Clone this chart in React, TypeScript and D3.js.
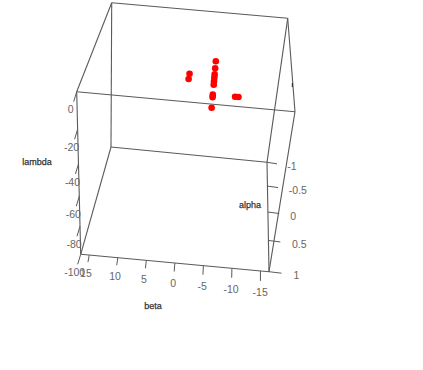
import { scaleLinear } from "d3";

const betaTicks = [15, 10, 5, 0, -5, -10, -15];
const alphaTicks = [-1, -0.5, 0, 0.5, 1];
const lambdaTicks = [0, -20, -40, -60, -80, -100];

const pointBeta = [-3.9, -3.9, -3.9, -3.9, -3.9, -3.9, -3.9, -3.9, -3.9, 0.4, 0.5, -7.8, -8.4];
const pointAlpha = [0, 0, 0, 0, 0, 0, 0, 0, 0, 0, 0, 0, 0];
const pointLambda = [-4.5, -8.5, -12, -14, -16, -18, -24, -25.5, -32, -13, -16, -24, -24];

const width = 423;
const height = 370;

// screen corners of the box, [left/right][front/back][top/bottom]
const corners = {
  lft: [76.7, 91.7],
  rft: [295, 111.7],
  lbt: [111.7, 2.7],
  rbt: [287.7, 18.3],
  lfd: [80.7, 254.3],
  rfd: [269, 271.7],
  lbd: [111, 147],
  rbd: [267, 162.3],
};

const edges = [
  ["lft", "rft"], ["lbt", "rbt"], ["lfd", "rfd"], ["lbd", "rbd"],
  ["lft", "lbt"], ["rft", "rbt"], ["lfd", "lbd"], ["rfd", "rbd"],
  ["lft", "lfd"], ["rft", "rfd"], ["lbt", "lbd"], ["rbt", "rbd"],
];

const betaScale = scaleLinear().domain([16.5, -16.5]).range([0, 1]);
const alphaScale = scaleLinear().domain([1, -1]).range([0, 1]);
const lambdaScale = scaleLinear().domain([0, -100]).range([0, 1]);

// perspective: corner weights grow with depth, then homogeneous trilinear blend
function project(beta: number, alpha: number, lambda: number) {
  const u = betaScale(beta);
  const b = alphaScale(alpha);
  const d = lambdaScale(lambda);
  let x = 0;
  let y = 0;
  let w = 0;
  for (const [i, fu] of [1 - u, u].entries()) {
    for (const [j, fb] of [1 - b, b].entries()) {
      for (const [k, fd] of [1 - d, d].entries()) {
        const key = (i ? "r" : "l") + (j ? "b" : "f") + (k ? "d" : "t");
        const c = corners[key as keyof typeof corners];
        const cw = 1 + 0.2 * k + 0.24 * j;
        const f = fu * fb * fd * cw;
        x += f * c[0];
        y += f * c[1];
        w += f;
      }
    }
  }
  return [x / w, y / w];
}

const betaTickDy = scaleLinear().domain([15, -15]).range([7, 10]);
const betaTickDx = scaleLinear().domain([15, -15]).range([-1.3, 0]);
const betaLabelDx = scaleLinear().domain([15, -15]).range([-3.3, -0.3]);
const betaLabelDy = scaleLinear().domain([15, -15]).range([18.3, 21.5]);
const alphaTickLen = scaleLinear().domain([-1, 1]).range([10, 12.5]);
const alphaLabelDx = scaleLinear().domain([-1, 1]).range([20.3, 24.5]);

const tickColor = "#5a5a5a";
const labelColor = "#666";
const titleColor = "#333";
const font = "'Liberation Sans', Arial, sans-serif";

export default function App() {
  return (
    <svg
      width={width}
      height={height}
      style={{ position: "absolute", left: 0, top: 0, background: "#fff" }}
      fontFamily={font}>
      {edges.map(([a, b]) => {
        const p = corners[a as keyof typeof corners];
        const q = corners[b as keyof typeof corners];
        return <line key={a + b} x1={p[0]} y1={p[1]} x2={q[0]} y2={q[1]} stroke={tickColor} strokeWidth={1.1} />;
      })}
      <line x1={292.3} y1={83} x2={292.3} y2={87} stroke="#222" strokeWidth={1} />

      {lambdaTicks.map((t) => {
        const [x, y] = project(16.5, 1, t);
        return (
          <g key={t}>
            <line x1={x} y1={y} x2={x - 3} y2={y + 10} stroke={tickColor} />
            <text x={x - 6} y={y + 18} dy="0.35em" textAnchor="middle" fontSize={10.5} fill={labelColor}>
              {t}
            </text>
          </g>
        );
      })}

      {betaTicks.map((t) => {
        const [x, y] = project(t, 1, -100);
        return (
          <g key={t}>
            <line x1={x} y1={y} x2={x + betaTickDx(t)} y2={y + betaTickDy(t)} stroke={tickColor} />
            <text x={x + betaLabelDx(t)} y={y + betaLabelDy(t)} dy="0.35em" textAnchor="middle" fontSize={10.5} fill={labelColor}>
              {t}
            </text>
          </g>
        );
      })}

      {alphaTicks.map((t) => {
        const [x, y] = project(-16.5, t, -100);
        return (
          <g key={t}>
            <line x1={x} y1={y} x2={x + alphaTickLen(t)} y2={y + 1.5} stroke={tickColor} />
            <text x={x + alphaLabelDx(t)} y={y + 4} dy="0.35em" fontSize={10.5} fill={labelColor}>
              {t}
            </text>
          </g>
        );
      })}

      <g fontSize={9} fill={titleColor} stroke={titleColor} strokeWidth={0.25} textAnchor="middle">
        <text x={37} y={162} dy="0.35em">lambda</text>
        <text x={153} y={306} dy="0.35em">beta</text>
        <text x={250} y={205} dy="0.35em">alpha</text>
      </g>

      {pointBeta.map((b, i) => {
        const [x, y] = project(b, pointAlpha[i], pointLambda[i]);
        return <circle key={i} cx={x} cy={y} r={3.3} fill="#ff0000" />;
      })}
    </svg>
  );
}
